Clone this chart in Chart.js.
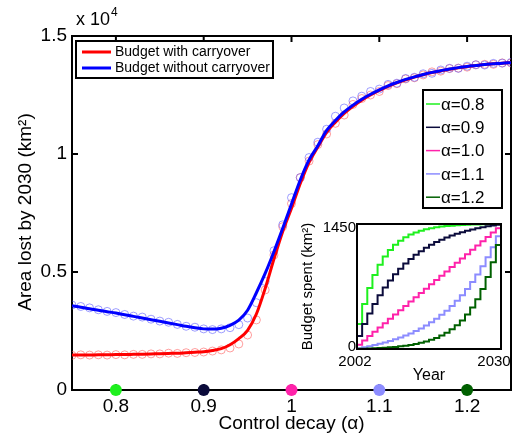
<!DOCTYPE html>
<html>
<head>
<meta charset="utf-8">
<script src="https://cdn.jsdelivr.net/npm/chart.js@4.4.1/dist/chart.umd.min.js"></script>
<style>
  body { margin: 0; background: #fff; }
  #wrap { position: relative; width: 517px; height: 440px; background: #fff; }
  #inset { position: absolute; left: 296px; top: 210px; }
</style>
</head>
<body>
<div id="wrap">
  <canvas id="main" width="517" height="440"></canvas>
  <canvas id="inset" width="221" height="180"></canvas>
</div>
<script>
// control decay values (alpha), one per 0.01
var alphas = [0.75,0.76,0.77,0.78,0.79,0.80,0.81,0.82,0.83,0.84,0.85,0.86,0.87,0.88,0.89,0.90,0.91,0.92,0.93,0.94,0.95,0.96,0.97,0.98,0.99,1.00,
  1.01,1.02,1.03,1.04,1.05,1.06,1.07,1.08,1.09,1.10,1.11,1.12,1.13,1.14,1.15,1.16,1.17,1.18,1.19,1.20,1.21,1.22,1.23,1.24,1.25];

// area lost by 2030 (km2), fitted curves
var withCarry = [1480,1480,1480,1490,1490,1500,1500,1510,1520,1530,1540,1550,1560,1580,1600,1620,1670,1750,1920,2180,2530,3220,4300,5550,6720,7700,
  8750,9650,10300,10920,11350,11720,12020,12280,12500,12690,12870,13010,13140,13260,13360,13450,13520,13590,13650,13700,13750,13790,13820,13850,13870];
var withoutCarry = [3570,3510,3440,3380,3320,3260,3190,3120,3050,2980,2910,2840,2770,2700,2640,2590,2580,2620,2740,2960,3380,4120,4940,5860,6850,7880,
  8900,9750,10350,11000,11420,11780,12070,12320,12530,12720,12890,13030,13160,13270,13370,13460,13530,13600,13660,13710,13750,13790,13820,13850,13870];

// simulated points (open circles)
var withCarryPts = [1470,1490,1480,1490,1480,1500,1490,1510,1510,1530,1530,1560,1550,1580,1590,1610,1650,1700,1780,1950,2330,2970,4240,5720,6920,7900,
  9000,9700,10400,10850,11300,11650,12100,12350,12500,12650,12900,12980,13180,13230,13350,13480,13510,13620,13640,13680,13780,13800,13800,13860,13860];
var withoutCarryPts = [3600,3540,3480,3400,3330,3280,3200,3130,3090,3000,2920,2870,2780,2700,2660,2590,2560,2590,2640,2770,3050,3700,4600,5900,7000,8150,
  9000,9850,10500,11050,11600,11950,12250,12450,12650,12750,12950,13000,13200,13250,13400,13420,13560,13630,13630,13720,13780,13770,13840,13850,13880];

var xTicks = [0.8, 0.9, 1, 1.1, 1.2];
var yTicks = [0, 5000, 10000, 15000];

// inset: cumulative budget spent (km2) after each yearly step
var years = [2002,2003,2004,2005,2006,2007,2008,2009,2010,2011,2012,2013,2014,2015,2016,2017,2018,2019,2020,2021,2022,2023,2024,2025,2026,2027,2028,2029,2030];
var insetAlphas = ['0.8', '0.9', '1.0', '1.1', '1.2'];
var budget08 = [290,523,709,857,976,1072,1148,1209,1257,1296,1328,1352,1372,1388,1401,1411,1420,1426,1431,1436,1439,1442,1444,1445,1447,1448,1449,1449,1450];
var budget09 = [152,289,412,523,623,713,794,867,932,991,1044,1092,1135,1174,1208,1240,1268,1293,1316,1337,1355,1372,1387,1400,1412,1423,1433,1442,1450];
var budget10 = [50,100,150,200,250,300,350,400,450,500,550,600,650,700,750,800,850,900,950,1000,1050,1100,1150,1200,1250,1300,1350,1400,1450];
var budget11 = [10,21,32,45,60,75,93,112,133,156,181,209,239,273,310,351,396,445,499,559,624,697,776,863,959,1065,1181,1309,1450];
var budget12 = [2,3,5,8,11,15,19,24,31,38,47,58,72,87,106,129,156,189,228,275,332,399,481,578,696,836,1005,1207,1450];
var insetColors = ['#1ef01e', '#0b0b3b', '#ff22aa', '#8c8cff', '#006000'];

var FONT = "'Liberation Sans', Arial, sans-serif";
Chart.defaults.font.family = FONT;
Chart.defaults.color = '#000';

function pairs(xs, ys) {
  return xs.map(function(x, i) { return {x: x, y: ys[i]}; });
}

var mainDecor = {
  id: 'mainDecor',
  beforeDatasetsDraw: function(chart) {
    var ctx = chart.ctx, a = chart.chartArea;
    var xs = chart.scales.x, ys = chart.scales.y;
    ctx.save();
    ctx.strokeStyle = '#000';
    ctx.lineWidth = 2;
    ctx.strokeRect(a.left, a.top, a.right - a.left, a.bottom - a.top);
    ctx.beginPath();
    xTicks.forEach(function(v) {
      var px = xs.getPixelForValue(v);
      ctx.moveTo(px, a.bottom); ctx.lineTo(px, a.bottom - 6);
      ctx.moveTo(px, a.top); ctx.lineTo(px, a.top + 6);
    });
    yTicks.forEach(function(v) {
      var py = ys.getPixelForValue(v);
      ctx.moveTo(a.left, py); ctx.lineTo(a.left + 6, py);
      ctx.moveTo(a.right, py); ctx.lineTo(a.right - 6, py);
    });
    ctx.stroke();
    ctx.restore();
  },
  afterDatasetsDraw: function(chart) {
    var ctx = chart.ctx, a = chart.chartArea;
    ctx.save();
    ctx.fillStyle = '#000';
    // exponent label
    ctx.font = '18px ' + FONT;
    ctx.textBaseline = 'alphabetic';
    ctx.fillText('x 10', 76, 25);
    var w = ctx.measureText('x 10').width;
    ctx.font = '12px ' + FONT;
    ctx.fillText('4', 76 + w + 1, 16);

    // axis titles
    ctx.font = '19px ' + FONT;
    ctx.textAlign = 'center';
    ctx.textBaseline = 'middle';
    ctx.fillText('Control decay (\u03b1)', (a.left + a.right) / 2, 424);
    ctx.save();
    ctx.translate(26, 212);
    ctx.rotate(-Math.PI / 2);
    ctx.fillText('Area lost by 2030 (km\u00b2)', 0, 0);
    ctx.restore();

    // legend for the two budgets
    ctx.textAlign = 'left';
    ctx.fillStyle = '#fff';
    ctx.fillRect(76, 41, 197, 37);
    ctx.lineWidth = 2;
    ctx.strokeStyle = '#000';
    ctx.strokeRect(76, 41, 197, 37);
    ctx.lineWidth = 3;
    ctx.strokeStyle = '#ff0000';
    ctx.beginPath(); ctx.moveTo(82, 52); ctx.lineTo(111, 52); ctx.stroke();
    ctx.strokeStyle = '#0000ff';
    ctx.beginPath(); ctx.moveTo(82, 68); ctx.lineTo(111, 68); ctx.stroke();
    ctx.fillStyle = '#000';
    ctx.font = '14px ' + FONT;
    ctx.fillText('Budget with carryover', 115, 52);
    ctx.fillText('Budget without carryover', 115, 68);

    // legend for the inset
    ctx.fillStyle = '#fff';
    ctx.fillRect(423, 90, 79, 118);
    ctx.lineWidth = 2;
    ctx.strokeStyle = '#000';
    ctx.strokeRect(423, 90, 79, 118);
    ctx.font = '17px ' + FONT;
    insetAlphas.forEach(function(al, i) {
      var y = 104 + i * 23.3;
      ctx.strokeStyle = insetColors[i];
      ctx.lineWidth = 1.5;
      ctx.beginPath(); ctx.moveTo(426, y); ctx.lineTo(440, y); ctx.stroke();
      ctx.fillStyle = '#000';
      ctx.fillText('\u03b1=' + al, 441, y + 1);
    });
    ctx.restore();
  }
};

new Chart(document.getElementById('main'), {
  type: 'line',
  data: {
    datasets: [
      {
        label: 'alpha markers',
        data: xTicks.map(function(v) { return {x: v, y: 0}; }),
        showLine: false,
        pointRadius: 6,
        pointBorderWidth: 0,
        pointBackgroundColor: insetColors,
        pointBorderColor: insetColors,
        clip: false
      },
      {
        label: 'Budget without carryover',
        data: pairs(alphas, withoutCarry),
        borderColor: '#0000ff',
        borderWidth: 3,
        pointRadius: 0,
        cubicInterpolationMode: 'monotone'
      },
      {
        label: 'Budget with carryover',
        data: pairs(alphas, withCarry),
        borderColor: '#ff0000',
        borderWidth: 3,
        pointRadius: 0,
        cubicInterpolationMode: 'monotone'
      },
      {
        label: 'without carryover (sim)',
        data: pairs(alphas, withoutCarryPts),
        showLine: false,
        pointRadius: 4,
        pointBorderWidth: 1,
        pointBackgroundColor: 'rgba(0,0,0,0)',
        pointBorderColor: 'rgba(80,80,255,0.55)'
      },
      {
        label: 'with carryover (sim)',
        data: pairs(alphas, withCarryPts),
        showLine: false,
        pointRadius: 4,
        pointBorderWidth: 1,
        pointBackgroundColor: 'rgba(0,0,0,0)',
        pointBorderColor: 'rgba(255,80,80,0.55)'
      }
    ]
  },
  options: {
    responsive: false,
    animation: false,
    devicePixelRatio: 1,
    layout: { padding: { top: 36, right: 1, left: 0, bottom: 0 } },
    plugins: { legend: { display: false }, tooltip: { enabled: false } },
    scales: {
      x: {
        type: 'linear',
        min: 0.75,
        max: 1.25,
        grid: { display: false, drawTicks: false },
        border: { display: false },
        afterBuildTicks: function(s) { s.ticks = xTicks.map(function(v) { return {value: v}; }); },
        afterFit: function(s) { s.height = 50; },
        ticks: { font: { size: 19 }, padding: 5, maxRotation: 0, callback: function(v) { return String(v); } }
      },
      y: {
        min: 0,
        max: 15000,
        grid: { display: false, drawTicks: false },
        border: { display: false },
        afterBuildTicks: function(s) { s.ticks = yTicks.map(function(v) { return {value: v}; }); },
        afterFit: function(s) { s.width = 72; },
        ticks: { font: { size: 19 }, padding: 5, callback: function(v) { return String(v / 10000); } }
      }
    }
  },
  plugins: [mainDecor]
});

var insetDecor = {
  id: 'insetDecor',
  beforeDatasetsDraw: function(chart) {
    var ctx = chart.ctx, a = chart.chartArea;
    ctx.save();
    ctx.fillStyle = '#fff';
    ctx.fillRect(a.left, a.top, a.right - a.left, a.bottom - a.top);
    ctx.restore();
  },
  afterDatasetsDraw: function(chart) {
    var ctx = chart.ctx, a = chart.chartArea;
    var xs = chart.scales.x, ys = chart.scales.y;
    ctx.save();
    ctx.strokeStyle = '#000';
    ctx.lineWidth = 2;
    ctx.strokeRect(a.left, a.top, a.right - a.left, a.bottom - a.top);
    ctx.fillStyle = '#000';
    ctx.font = '15px ' + FONT;
    ctx.textBaseline = 'middle';
    ctx.textAlign = 'right';
    ctx.fillText('1450', a.left - 1, ys.getPixelForValue(1450) + 4);
    ctx.fillText('0', a.left - 1, ys.getPixelForValue(0) - 2);
    ctx.textAlign = 'center';
    ctx.fillText('2002', xs.getPixelForValue(2002) - 2, a.bottom + 13);
    ctx.fillText('2030', xs.getPixelForValue(2030) - 7, a.bottom + 13);
    ctx.font = '16px ' + FONT;
    ctx.fillText('Year', (a.left + a.right) / 2, a.bottom + 27);
    ctx.font = '15px ' + FONT;
    ctx.translate(12, (a.top + a.bottom) / 2);
    ctx.rotate(-Math.PI / 2);
    ctx.fillText('Budget spent (km\u00b2)', 0, 0);
    ctx.restore();
  }
};

var budgets = [budget08, budget09, budget10, budget11, budget12];
new Chart(document.getElementById('inset'), {
  type: 'line',
  data: {
    datasets: budgets.map(function(b, i) {
      return {
        label: '\u03b1=' + insetAlphas[i],
        data: [{x: 2002, y: 0}].concat(pairs(years, b)),
        borderColor: insetColors[i],
        borderWidth: 2,
        pointRadius: 0,
        stepped: true,
        order: -i
      };
    })
  },
  options: {
    responsive: false,
    animation: false,
    devicePixelRatio: 1,
    layout: { padding: { left: 61, top: 14, right: 16, bottom: 41 } },
    plugins: { legend: { display: false }, tooltip: { enabled: false } },
    scales: {
      x: { type: 'linear', min: 2002, max: 2030, display: false },
      y: { min: 0, max: 1450, display: false }
    }
  },
  plugins: [insetDecor]
});
</script>
</body>
</html>
